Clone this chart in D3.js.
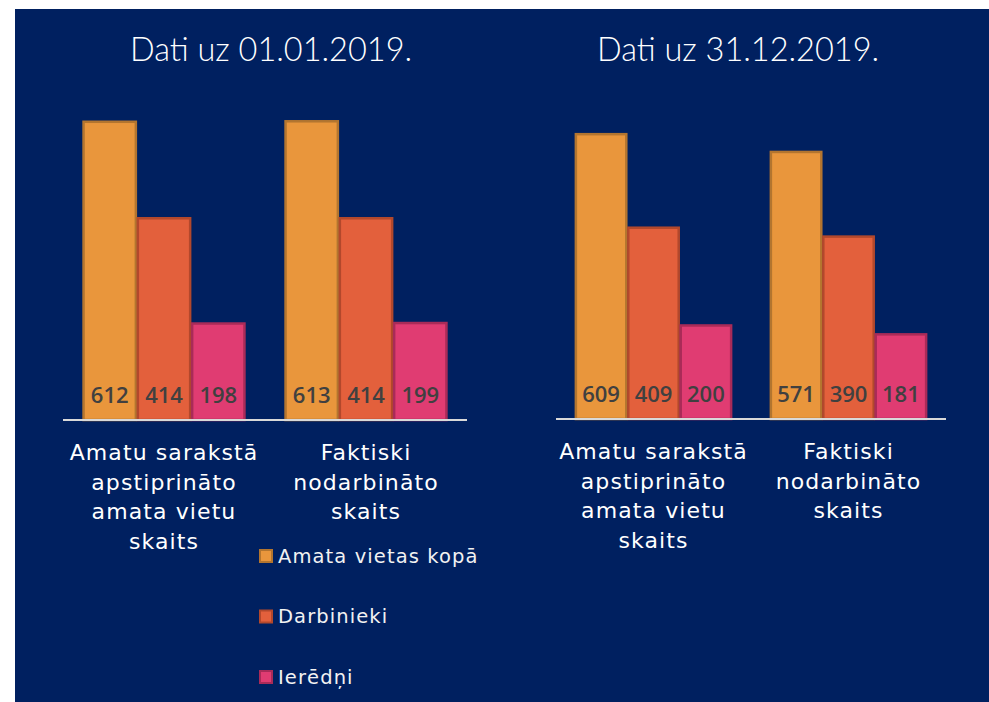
<!DOCTYPE html>
<html>
<head>
<meta charset="utf-8">
<script src="https://cdn.jsdelivr.net/npm/d3@7"></script>
<style>
  body { margin: 0; background: #ffffff; }
  svg { display: block; }
</style>
</head>
<body>
<svg id="chart" width="989" height="702"></svg>
<script>
// dati
const series = ['Amata vietas kopā', 'Darbinieki', 'Ierēdņi'];
const categoryLines = [
    ['Amatu sarakstā', 'apstiprināto', 'amata vietu', 'skaits'],
    ['Faktiski', 'nodarbināto', 'skaits']
];
const titles = ['Dati uz 01.01.2019.', 'Dati uz 31.12.2019.'];
const valuesStart = [[612, 414, 198], [613, 414, 199]];
const valuesEnd = [[609, 409, 200], [571, 390, 181]];

const colors = ['#e9963c', '#e3603c', '#e03c72'];
const strokes = ['#b3752f', '#b2482c', '#a92b58'];

const svg = d3.select('#chart');

// fons
svg.append('rect')
    .attr('x', 15).attr('y', 9)
    .attr('width', 974).attr('height', 693)
    .attr('fill', '#002060');

// viena diagramma: x diapazons, bāzes līnija, y maksimums
function drawPanel(values, title, opt) {
    const x0 = d3.scaleBand()
        .domain(d3.range(values.length))
        .range([opt.left, opt.right]);

    const x1 = d3.scaleBand()
        .domain(d3.range(series.length))
        .range([0, x0.bandwidth()])
        .paddingOuter(0.36);

    const y = d3.scaleLinear()
        .domain([0, opt.max])
        .range([opt.base, opt.top]);

    const g = svg.append('g');

    const groups = g.selectAll('.grp')
        .data(values)
        .enter()
        .append('g')
        .attr('transform', (d, i) => `translate(${x0(i)},0)`);

    groups.selectAll('rect')
        .data(d => d)
        .enter()
        .append('rect')
        .attr('x', (d, i) => x1(i) + 1)
        .attr('y', d => y(d))
        .attr('width', x1.bandwidth() - 2)
        .attr('height', d => y(0) - y(d))
        .attr('fill', (d, i) => colors[i])
        .attr('stroke', (d, i) => strokes[i])
        .attr('stroke-width', 2.5);

    // vērtības pie apakšas
    groups.selectAll('text.val')
        .data(d => d)
        .enter()
        .append('text')
        .attr('class', 'val')
        .attr('x', (d, i) => x1(i) + x1.bandwidth() / 2)
        .attr('y', opt.base - 17)
        .attr('text-anchor', 'middle')
        .attr('font-family', '"Open Sans", sans-serif')
        .attr('font-weight', 600)
        .attr('font-size', '22px')
        .attr('fill', '#404040')
        .text(d => d);

    // bāzes līnija
    g.append('line')
        .attr('x1', opt.left).attr('x2', opt.right)
        .attr('y1', opt.base).attr('y2', opt.base)
        .attr('stroke', '#d9d9d9')
        .attr('stroke-width', 2);

    // kategoriju nosaukumi
    groups.each(function (d, i) {
        const t = d3.select(this).append('text')
            .attr('text-anchor', 'middle')
            .attr('font-family', '"DejaVu Sans", Verdana, sans-serif')
            .attr('font-size', '22px')
            .attr('letter-spacing', '1.1px')
            .attr('fill', '#ffffff');
        categoryLines[i].forEach((line, k) => {
            t.append('tspan')
                .attr('x', x0.bandwidth() / 2)
                .attr('y', opt.base + 40 + k * 29.5)
                .text(line);
        });
    });

    // virsraksts
    svg.append('text')
        .attr('x', opt.titleX)
        .attr('y', 61)
        .attr('text-anchor', 'middle')
        .attr('font-family', 'Lato, "Noto Sans", sans-serif')
        .attr('font-weight', 300)
        .attr('font-size', '32.5px')
        .attr('fill', '#ffffff')
        .text(title);
}

drawPanel(valuesStart, titles[0], { left: 63, right: 467, base: 420, top: 113, max: 630, titleX: 271 });
drawPanel(valuesEnd, titles[1], { left: 556, right: 946, base: 419, top: 115, max: 650, titleX: 738 });

// leģenda
const legend = svg.append('g')
    .selectAll('g')
    .data(series)
    .enter()
    .append('g')
    .attr('transform', (d, i) => `translate(259, ${556 + i * 60.5})`);

legend.append('rect')
    .attr('x', 1).attr('y', -6)
    .attr('width', 12).attr('height', 12)
    .attr('fill', (d, i) => colors[i])
    .attr('stroke', (d, i) => strokes[i])
    .attr('stroke-width', 2);

legend.append('text')
    .attr('x', 19)
    .attr('y', 0)
    .attr('dy', '0.35em')
    .attr('font-family', '"DejaVu Sans", Verdana, sans-serif')
    .attr('font-size', '19.5px')
    .attr('letter-spacing', '1.1px')
    .attr('fill', '#f2f2f2')
    .text(d => d);
</script>
</body>
</html>
